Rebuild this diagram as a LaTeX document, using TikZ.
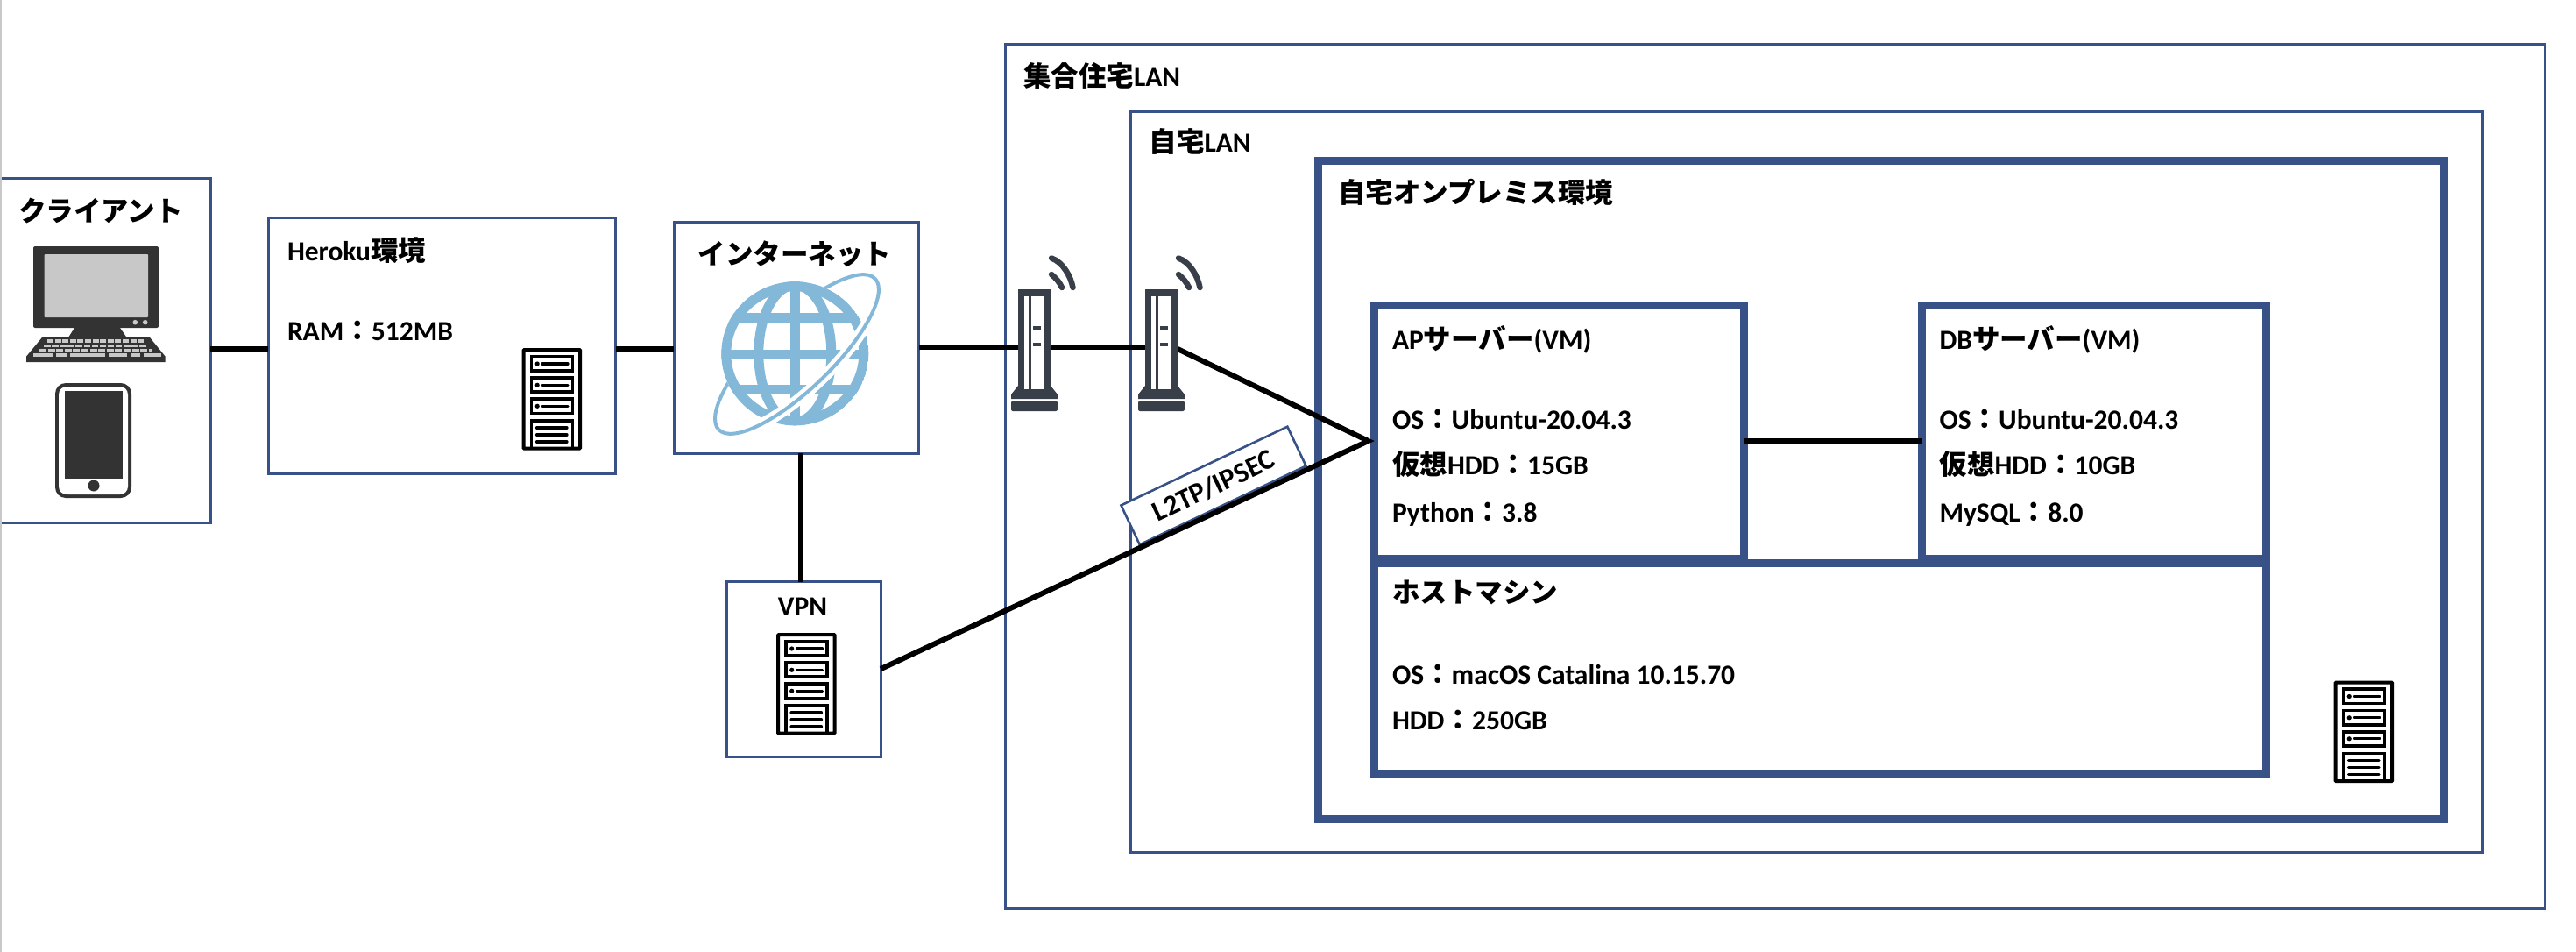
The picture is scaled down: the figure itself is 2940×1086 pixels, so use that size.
\documentclass[tikz,border=0pt]{standalone}
\usepackage{fontspec}
\setmainfont{Carlito}
\newfontfamily\cjk{Noto Sans CJK JP}
\newcommand\J[1]{{\cjk #1}}
\definecolor{lineblue}{HTML}{385288}
\definecolor{routerdark}{HTML}{383F48}
\definecolor{pcdark}{HTML}{333333}
\definecolor{pclight}{HTML}{C8C8C8}
\definecolor{globeblue}{HTML}{84B8D9}
\tikzset{
  bx/.style={draw=lineblue,line width=3pt,inner sep=0pt,outer sep=0pt,anchor=north west},
  bxthick/.style={bx,line width=9pt},
  lbl/.style={inner sep=0pt,outer sep=0pt,anchor=base west,font=\bfseries\fontsize{31.5}{36}\selectfont,text=black},
  lblc/.style={lbl,anchor=base},
  conn/.style={draw=black,line width=6.5pt},
  diag/.style={draw=black,line width=6pt,miter limit=20},
  anchorbox/.style={inner sep=0pt,outer sep=0pt,minimum width=37pt,minimum height=136pt},
  srv/.pic={
    \draw[line width=4pt,rounded corners=1pt] (2,2) rectangle (66.7,114.7);
    \foreach \t/\b/\m in {9.5/25.8/18,33.8/50.2/42.3,58.2/74.5/66.3}{
      \draw[line width=3.6pt] (10.8,\t) rectangle (57.8,\b);
      \fill (17.7,\m) circle (2.6);
      \draw[line width=3.2pt,line cap=round] (23.5,\m) -- (52.5,\m);
    }
    \draw[line width=3.6pt] (10.8,115) -- (10.8,82.8) -- (57.8,82.8) -- (57.8,115);
    \foreach \m in {91,99,107}{\draw[line width=3.2pt,line cap=round] (17,\m) -- (51.5,\m);}
  },
  rtr/.pic={
    \fill[routerdark] (0,0) -- (37,0) -- (37,110) -- (45,120) -- (45,125) -- (-8,125) -- (-8,120) -- (0,110) -- cycle;
    \fill[routerdark,rounded corners=2pt] (-8,127.5) -- (45,127.5) -- (45,139) -- (-8,139) -- cycle;
    \fill[white] (6.6,8) rectangle (12,114);
    \fill[white] (14.6,8) rectangle (30,114);
    \fill[routerdark] (17,41.5) rectangle (26,46);
    \fill[routerdark] (17,60.5) rectangle (26,65);
    \draw[routerdark,line width=6.5pt,line cap=round] (38,-35.5) .. controls (51,-31) and (60,-15) .. (62.5,-2);
    \draw[routerdark,line width=6.5pt,line cap=round] (38,-17) .. controls (43,-13) and (48,-7) .. (50,-2);
  },
}
\begin{document}
\begin{tikzpicture}[x=1pt,y=-1pt]
\useasboundingbox (0,0) rectangle (2940,1086);
\fill[white] (0,0) rectangle (2940,1086);

% nested LAN frames
\node[bx,minimum width=1757pt,minimum height=986pt] (outer) at (1147.5,50.5) {};
\node[bx,minimum width=1543pt,minimum height=845pt] (home) at (1290.5,127.5) {};
\node[bxthick,minimum width=1285pt,minimum height=751pt] (onprem) at (1504.5,183.5) {};
\node[bxthick,minimum width=1018pt,minimum height=240.5pt] (host) at (1568.5,642) {};
\node[bxthick,minimum width=422pt,minimum height=289pt] (ap) at (1568.5,348.5) {};
\node[bxthick,minimum width=393pt,minimum height=289pt] (db) at (2193.5,348.5) {};

% other boxes
\node[bx,minimum width=240pt,minimum height=392pt] (client) at (0,204) {};
\node[bx,minimum width=396.5pt,minimum height=291pt] (heroku) at (306,249) {};
\node[bx,minimum width=279.5pt,minimum height=263pt] (internet) at (769,254) {};
\node[bx,minimum width=176pt,minimum height=199.5pt] (vpn) at (829,663.5) {};

% router anchors
\node[anchorbox] (rt1) at (1180.5,398) {};
\node[anchorbox] (rt2) at (1325.5,398) {};

% helper coordinates for connector levels
\coordinate (lvlA) at (0,398);
\coordinate (lvlB) at (0,396);
\coordinate (lvlC) at (914,0);
\coordinate (peak) at (1561.7,503);

% connectors
\draw[conn] (client.east |- lvlA) -- (heroku.west |- lvlA);
\draw[conn] (heroku.east |- lvlA) -- (internet.west |- lvlA);
\draw[conn] (internet.east |- lvlB) -- (rt1.west |- lvlB);
\draw[conn] (rt1.east |- lvlB) -- (rt2.west |- lvlB);
\draw[conn] (internet.south -| lvlC) -- (vpn.north -| lvlC);
\draw[conn] (ap.east |- peak) -- (db.west |- peak);

% L2TP label
\node[draw=lineblue,line width=2.6pt,fill=white,rotate=25.3,minimum width=210pt,minimum height=49.6pt,inner sep=0pt,font=\bfseries\fontsize{32.5}{36}\selectfont] (l2tp) at (1385,554) {L2TP/IPSEC};
\draw[diag] (rt2.east) -- (peak) -- (vpn.east);

% routers
\pic at (1162,330) {rtr};
\pic at (1307,330) {rtr};

% servers
\pic at (595.5,397) {srv};
\pic at (886,722) {srv};
\pic at (2663.5,776.5) {srv};

% computer
\fill[pcdark,rounded corners=2pt] (38,281) rectangle (181,374);
\fill[pclight,rounded corners=1pt] (50.5,290) rectangle (169,362);
\fill[pclight] (154.3,367.7) circle (2.8) (165.7,367.7) circle (2.8);
\fill[pcdark] (85,374) -- (137,374) -- (144.6,385) -- (78,385) -- cycle;
\fill[pcdark] (48,385) -- (171,385) -- (188.7,406.7) -- (188.7,413) -- (30,413) -- (30,406.7) -- cycle;
\draw[pclight,line width=3.6pt,dash pattern=on 7pt off 1.6pt] (54,389) -- (165,389);
\draw[pclight,line width=3.6pt,dash pattern=on 7.5pt off 1.6pt] (50,394.3) -- (168,394.3);
\draw[pclight,line width=3.6pt,dash pattern=on 8pt off 1.6pt] (45,399.5) -- (173,399.5);
\draw[pclight,line width=3.8pt] (38,405) -- (60,405) (64,405) -- (76,405) (80,405) -- (120,405) (124,405) -- (145,405) (149,405) -- (160,405) (164,405) -- (184,405);

% phone
\fill[pcdark,rounded corners=12pt] (63,437) rectangle (150,568);
\fill[white,rounded corners=9pt] (67,441) rectangle (146,564);
\fill[pcdark] (74,446) rectangle (140,546);
\fill[pcdark] (107,554) circle (6.5);

% globe
\begin{scope}[shift={(909.5,404)},rotate=44]
  \draw[globeblue,line width=4pt] (0,0) ellipse [x radius=124,y radius=40];
\end{scope}
\begin{scope}[shift={(907.3,403.3)}]
  \fill[white] (0,0) ellipse [x radius=84,y radius=82];
  \begin{scope}
    \clip (0,0) ellipse [x radius=84,y radius=82];
    \draw[globeblue,line width=11pt] (0,0) ellipse [x radius=78.5,y radius=76.5];
    \draw[globeblue,line width=11pt] (0,0) ellipse [x radius=41.5,y radius=78];
    \draw[globeblue,line width=11.5pt] (0,-82) -- (0,82);
    \draw[globeblue,line width=11pt] (-84,-40.5) -- (84,-40.5);
    \draw[globeblue,line width=11pt] (-84,0.7) -- (84,0.7);
    \draw[globeblue,line width=11pt] (-84,41.5) -- (84,41.5);
  \end{scope}
\end{scope}
\begin{scope}[shift={(909.5,404)},rotate=44]
  \draw[white,line width=13pt] (124,0) arc [start angle=0,end angle=180,x radius=124,y radius=40];
  \draw[globeblue,line width=4pt] (124,0) arc [start angle=0,end angle=180,x radius=124,y radius=40];
\end{scope}

% gray edge of the sheet
\fill[pclight] (0,0) rectangle (1.6,1086);

% labels
\node[lblc] (tclient) at (115,252.5) {\J{クライアント}};
\node[lbl] (theroku) at (328,298) {Heroku\J{環境}};
\node[lbl] (tram) at (328,388.3) {RAM\J{：}512MB};
\node[lblc] (tnet) at (907,301.5) {\J{インターネット}};
\node[lblc] (tvpn) at (916,702.7) {VPN};
\node[lbl] (touter) at (1168,99) {\J{集合住宅}LAN};
\node[lbl] (thome) at (1311.5,174) {\J{自宅}LAN};
\node[lbl] (tonprem) at (1527,231.5) {\J{自宅オンプレミス環境}};
\node[lbl] (tap) at (1589,398) {AP\J{サーバー}(VM)};
\node[lbl] (tap1) at (1589,489.5) {OS\J{：}Ubuntu-20.04.3};
\node[lbl] (tap2) at (1589,541) {\J{仮想}HDD\J{：}15GB};
\node[lbl] (tap3) at (1589,595) {Python\J{：}3.8};
\node[lbl] (tdb) at (2213.5,398) {DB\J{サーバー}(VM)};
\node[lbl] (tdb1) at (2213.5,489.5) {OS\J{：}Ubuntu-20.04.3};
\node[lbl] (tdb2) at (2213.5,541) {\J{仮想}HDD\J{：}10GB};
\node[lbl] (tdb3) at (2213.5,595) {MySQL\J{：}8.0};
\node[lbl] (thost) at (1589,687) {\J{ホストマシン}};
\node[lbl] (thost1) at (1589,780) {OS\J{：}macOS Catalina 10.15.70};
\node[lbl] (thost2) at (1589,832.7) {HDD\J{：}250GB};
\end{tikzpicture}
\end{document}
